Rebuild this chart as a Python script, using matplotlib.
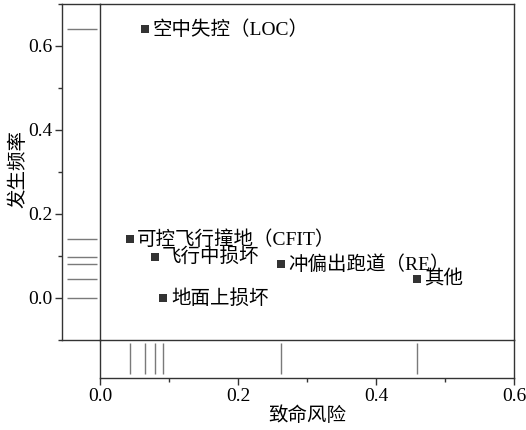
import matplotlib
matplotlib.use('Agg')
import matplotlib.pyplot as plt
from matplotlib.ticker import FixedLocator

plt.rcParams['font.family'] = ['Liberation Serif', 'Noto Sans CJK SC']

# 事故类型：致命风险 / 发生频率
labels = ['空中失控（LOC）', '可控飞行撞地（CFIT）', '飞行中损坏',
          '冲偏出跑道（RE）', '其他', '地面上损坏']
risk = [0.065, 0.043, 0.079, 0.262, 0.459, 0.092]
freq = [0.640, 0.140, 0.098, 0.080, 0.045, 0.000]

line_c = '#333333'
rug_c = '#7a7a7a'

fig = plt.figure(figsize=(5.26, 4.30), dpi=100)
W, H = 526, 430
x0, x1 = 100, 514
y0, y1 = 4, 340
lx = 62
by = 378

ax = fig.add_axes([x0 / W, 1 - y1 / H, (x1 - x0) / W, (y1 - y0) / H])
axl = fig.add_axes([lx / W, 1 - y1 / H, (x0 - lx) / W, (y1 - y0) / H])
axb = fig.add_axes([x0 / W, 1 - by / H, (x1 - x0) / W, (by - y1) / H])

xlim = (0, 0.6)
ylim = (-0.1, 0.7)

# 主散点图
ax.scatter(risk, freq, marker='s', s=26, color=line_c, zorder=3, linewidths=0)
for t, x, y in zip(labels, risk, freq):
    ax.annotate(t, (x, y), xytext=(5.5, 0), textcoords='offset points',
                ha='left', va='center', fontsize=14)
ax.set_xlim(*xlim)
ax.set_ylim(*ylim)
ax.set_xticks([])
ax.set_yticks([])

# 左侧边缘分布（发生频率）
axl.hlines(freq, 0.12, 0.91, color=rug_c, lw=1)
axl.set_xlim(0, 1)
axl.set_ylim(*ylim)
axl.set_xticks([])
axl.yaxis.set_major_locator(FixedLocator([0.0, 0.2, 0.4, 0.6]))
axl.yaxis.set_minor_locator(FixedLocator([-0.1, 0.1, 0.3, 0.5, 0.7]))
axl.tick_params(axis='y', which='major', length=5, width=1, color=line_c,
                labelsize=14, pad=2)
axl.tick_params(axis='y', which='minor', length=3, width=1, color=line_c)
axl.spines['right'].set_visible(False)
axl.set_ylabel('发生频率', fontsize=14)
axl.yaxis.set_label_coords(-0.9, 0.51)

# 底部边缘分布（致命风险）
axb.vlines(risk, 0.105, 0.93, color=rug_c, lw=1)
axb.set_xlim(*xlim)
axb.set_ylim(0, 1)
axb.set_yticks([])
axb.xaxis.set_major_locator(FixedLocator([0.0, 0.2, 0.4, 0.6]))
axb.xaxis.set_minor_locator(FixedLocator([0.1, 0.3, 0.5]))
axb.tick_params(axis='x', which='major', length=5, width=1, color=line_c,
                labelsize=14, pad=2)
axb.tick_params(axis='x', which='minor', length=3, width=1, color=line_c)
axb.spines['top'].set_visible(False)
axb.set_xlabel('致命风险', fontsize=14, labelpad=1)

for a in (ax, axl, axb):
    for s in a.spines.values():
        s.set_color(line_c)
        s.set_linewidth(1)
    a.patch.set_alpha(0)

fig.savefig('out.png', dpi=100)
